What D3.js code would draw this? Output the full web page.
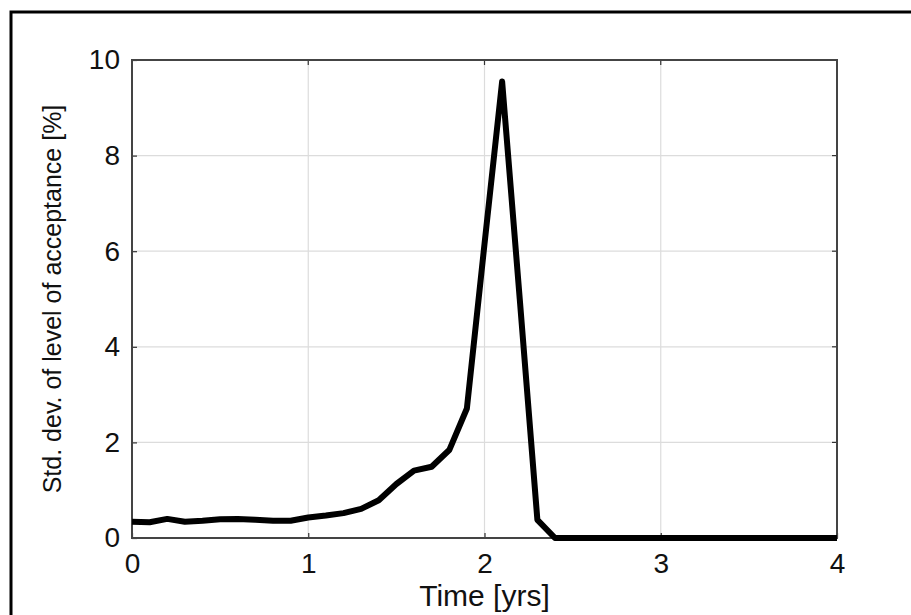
<!DOCTYPE html>
<html>
<head>
<meta charset="utf-8">
<script src="https://cdn.jsdelivr.net/npm/d3@7"></script>
<style>
  body { margin: 0; background: #fff; }
  svg { display: block; font-family: "Liberation Sans", Arial, sans-serif; }
</style>
</head>
<body>
<div id="chart"></div>
<script>
// time steps (yrs) and std. dev. values (%)
var times = [0.0, 0.1, 0.2, 0.3, 0.4, 0.5, 0.6, 0.7, 0.8, 0.9,
             1.0, 1.1, 1.2, 1.3, 1.4, 1.5, 1.6, 1.7, 1.8, 1.9,
             2.0, 2.1, 2.2, 2.3, 2.4, 2.5, 2.6, 2.7, 2.8, 2.9,
             3.0, 3.1, 3.2, 3.3, 3.4, 3.5, 3.6, 3.7, 3.8, 3.9, 4.0];
var stdDev = [0.34, 0.33, 0.40, 0.34, 0.36, 0.39, 0.40, 0.38, 0.36, 0.36,
              0.43, 0.47, 0.52, 0.61, 0.79, 1.13, 1.41, 1.49, 1.84, 2.71,
              6.15, 9.55, 5.00, 0.38, 0, 0, 0, 0, 0, 0,
              0, 0, 0, 0, 0, 0, 0, 0, 0, 0, 0];
var xTicks = [0, 1, 2, 3, 4];
var yTicks = [0, 2, 4, 6, 8, 10];

var width = 911, height = 615;
// plot box (named so they don't clash with window.top)
var pLeft = 132, pRight = 837, pTop = 60, pBottom = 538;

var svg = d3.select("#chart")
    .append("svg")
    .attr("width", width)
    .attr("height", height);

// frame around the figure (top and left visible)
svg.append("path")
    .attr("d", "M11," + height + " L11,12 L" + width + ",12")
    .attr("fill", "none")
    .attr("stroke", "#000")
    .attr("stroke-width", 3);

var x = d3.scaleLinear().domain([0, 4]).range([pLeft, pRight]);
var y = d3.scaleLinear().domain([0, 10]).range([pBottom, pTop]);

// grid
svg.append("g")
    .selectAll("line")
    .data(xTicks.slice(1, -1))
    .enter().append("line")
        .attr("x1", function(d){ return x(d); })
        .attr("x2", function(d){ return x(d); })
        .attr("y1", pTop).attr("y2", pBottom)
        .attr("stroke", "#dcdcdc").attr("stroke-width", 1.2);
svg.append("g")
    .selectAll("line")
    .data(yTicks.slice(1, -1))
    .enter().append("line")
        .attr("y1", function(d){ return y(d); })
        .attr("y2", function(d){ return y(d); })
        .attr("x1", pLeft).attr("x2", pRight)
        .attr("stroke", "#dcdcdc").attr("stroke-width", 1.2);

// axes: ticks pointing inward, box drawn separately
var xAxis = svg.append("g")
    .attr("transform", "translate(0," + pBottom + ")")
    .call(d3.axisBottom(x).tickValues(xTicks).tickFormat(d3.format("d"))
        .tickSizeInner(-5).tickSizeOuter(0).tickPadding(15));
var yAxis = svg.append("g")
    .attr("transform", "translate(" + pLeft + ",0)")
    .call(d3.axisLeft(y).tickValues(yTicks).tickFormat(d3.format("d"))
        .tickSizeInner(-5).tickSizeOuter(0).tickPadding(12));

[xAxis, yAxis].forEach(function(a){
    a.select(".domain").remove();
    a.selectAll(".tick line").attr("stroke", "#333").attr("stroke-width", 1.2);
    a.selectAll(".tick text")
        .attr("fill", "#111")
        .attr("font-size", "28px")
        .attr("font-family", "Liberation Sans, Arial, sans-serif");
});
xAxis.selectAll(".tick text").attr("dy", "0.72em");

// top-axis and right-axis ticks (inward)
svg.append("g").selectAll("line")
    .data(xTicks)
    .enter().append("line")
        .attr("x1", function(d){ return x(d); }).attr("x2", function(d){ return x(d); })
        .attr("y1", pTop).attr("y2", pTop + 5)
        .attr("stroke", "#333").attr("stroke-width", 1.2);
svg.append("g").selectAll("line")
    .data(yTicks)
    .enter().append("line")
        .attr("y1", function(d){ return y(d); }).attr("y2", function(d){ return y(d); })
        .attr("x1", pRight).attr("x2", pRight - 5)
        .attr("stroke", "#333").attr("stroke-width", 1.2);

// box
svg.append("rect")
    .attr("x", pLeft).attr("y", pTop)
    .attr("width", pRight - pLeft).attr("height", pBottom - pTop)
    .attr("fill", "none")
    .attr("stroke", "#444")
    .attr("stroke-width", 2);

// the data line
var line = d3.line()
    .x(function(d, i){ return x(times[i]); })
    .y(function(d){ return y(d); });

svg.append("path")
    .datum(stdDev)
    .attr("d", line)
    .attr("fill", "none")
    .attr("stroke", "#000")
    .attr("stroke-width", 6)
    .attr("stroke-linejoin", "round");

// axis labels
svg.append("text")
    .attr("x", (pLeft + pRight) / 2)
    .attr("y", 606)
    .attr("text-anchor", "middle")
    .attr("font-size", "30px")
    .attr("fill", "#111")
    .text("Time [yrs]");

svg.append("text")
    .attr("transform", "translate(61," + ((pTop + pBottom) / 2) + ") rotate(-90)")
    .attr("text-anchor", "middle")
    .attr("font-size", "25px")
    .attr("fill", "#111")
    .text("Std. dev. of level of acceptance [%]");
</script>
</body>
</html>
